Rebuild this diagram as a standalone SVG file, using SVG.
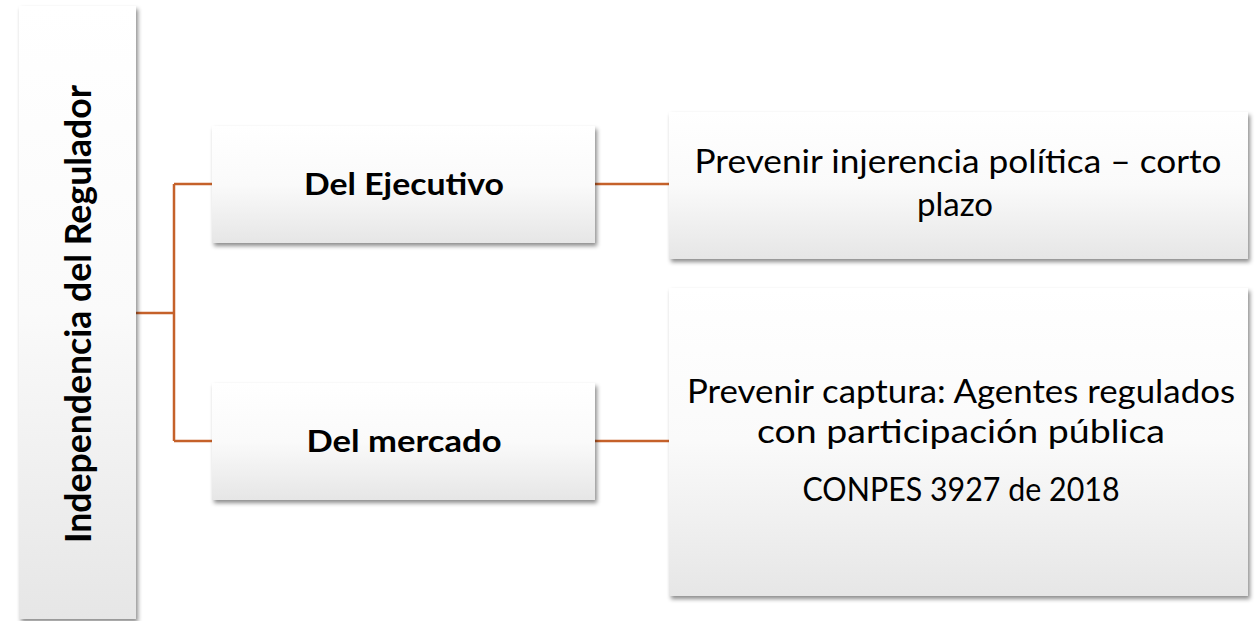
<svg xmlns="http://www.w3.org/2000/svg" width="1258" height="621" viewBox="0 0 1258 621">
<defs>
<linearGradient id="g" x1="0" y1="0" x2="0" y2="1">
<stop offset="0" stop-color="#ffffff"/>
<stop offset="0.5" stop-color="#fafafa"/>
<stop offset="1" stop-color="#e6e6e6"/>
</linearGradient>
<filter id="sh" x="-10%" y="-10%" width="120%" height="130%">
<feDropShadow dx="2" dy="3" stdDeviation="2" flood-color="#000" flood-opacity="0.45"/>
</filter>
</defs>
<style>
.box{fill:url(#g);filter:url(#sh);}
.t{font-family:Lato,"Liberation Sans",sans-serif;fill:#000;text-anchor:middle;}
.b{font-weight:bold;}
.c{fill:none;stroke:#C5612A;stroke-width:2.5;}
</style>
<rect width="1258" height="621" fill="#fff"/>
<g id="connectors">
<path class="c" d="M136,313 H174 M174,184 V441 M174,184 H212 M174,441 H212 M595,184 H669 M595,441 H669"/>
</g>
<g id="root">
<rect class="box" x="19" y="6" width="117" height="613"/>
<text class="t b" font-size="36" transform="translate(91,314) rotate(-90)" x="0" y="0" textLength="458" lengthAdjust="spacingAndGlyphs">Independencia del Regulador</text>
</g>
<g id="ejecutivo">
<rect class="box" x="212" y="126" width="383" height="117"/>
<text class="t b" font-size="30" x="404" y="195" textLength="200" lengthAdjust="spacingAndGlyphs">Del Ejecutivo</text>
</g>
<g id="mercado">
<rect class="box" x="212" y="383" width="383" height="117"/>
<text class="t b" font-size="30" x="404" y="452" textLength="195" lengthAdjust="spacingAndGlyphs">Del mercado</text>
</g>
<g id="injerencia">
<rect class="box" x="669" y="112" width="579" height="147"/>
<text class="t" font-size="32" x="958" y="173" textLength="527" lengthAdjust="spacingAndGlyphs">Prevenir injerencia política – corto</text>
<text class="t" font-size="32" x="955" y="216" textLength="76" lengthAdjust="spacingAndGlyphs">plazo</text>
</g>
<g id="captura">
<rect class="box" x="669" y="288" width="579" height="308"/>
<text class="t" font-size="32" x="961" y="403" textLength="548" lengthAdjust="spacingAndGlyphs">Prevenir captura: Agentes regulados</text>
<text class="t" font-size="32" x="961" y="443" textLength="408" lengthAdjust="spacingAndGlyphs">con participación pública</text>
<text class="t" font-size="32" x="961" y="501" textLength="317" lengthAdjust="spacingAndGlyphs">CONPES 3927 de 2018</text>
</g>
</svg>
